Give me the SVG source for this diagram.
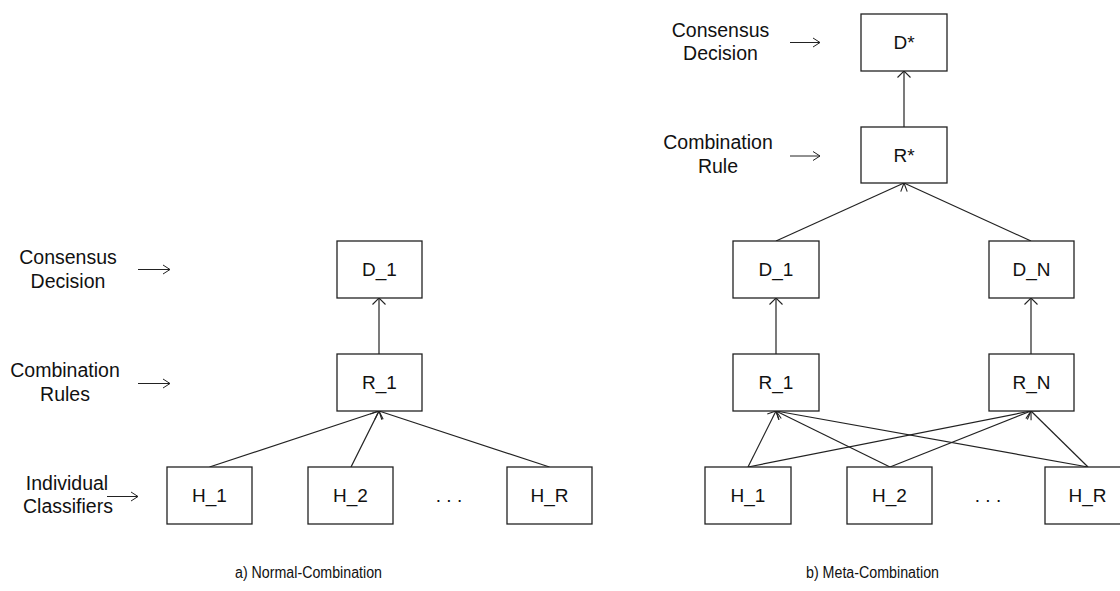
<svg xmlns="http://www.w3.org/2000/svg" width="1120" height="591" viewBox="0 0 1120 591">
<defs>
<style>
.box{fill:#fff;stroke:#222;stroke-width:1.3}
.t{font-family:"Liberation Sans",Arial,sans-serif;font-size:19px;fill:#111;text-anchor:middle}
.lbl{font-family:"Liberation Sans",Arial,sans-serif;font-size:19.5px;fill:#111;text-anchor:middle}
.cap{font-family:"Liberation Sans",Arial,sans-serif;font-size:16px;fill:#111}
.c{stroke:#222;stroke-width:1.2;fill:none}
.la{stroke:#222;stroke-width:1;fill:none}
</style>
<marker id="ah" viewBox="-10 -8 12 16" refX="0" refY="0" markerWidth="12" markerHeight="16" markerUnits="userSpaceOnUse" orient="auto">
<path d="M-6.5,-6.5 L0,0 L-6.5,6.5" fill="none" stroke="#222" stroke-width="1.1"/>
</marker>
</defs>
<rect width="1120" height="591" fill="#fff"/>

<g id="connectors">
<line class="c" x1="379" y1="354" x2="379" y2="298" marker-end="url(#ah)"/>
<line class="c" x1="209.5" y1="467" x2="379" y2="411" marker-end="url(#ah)"/>
<line class="c" x1="351" y1="467" x2="379" y2="411" marker-end="url(#ah)"/>
<line class="c" x1="549.5" y1="467" x2="379" y2="411" marker-end="url(#ah)"/>

<line class="c" x1="904" y1="127" x2="904" y2="71" marker-end="url(#ah)"/>
<line class="c" x1="776" y1="241" x2="904" y2="183" marker-end="url(#ah)"/>
<line class="c" x1="1031" y1="241" x2="904" y2="183" marker-end="url(#ah)"/>
<line class="c" x1="776" y1="354" x2="776" y2="298" marker-end="url(#ah)"/>
<line class="c" x1="1031" y1="354" x2="1031" y2="298" marker-end="url(#ah)"/>
<line class="c" x1="748" y1="467" x2="776" y2="411" marker-end="url(#ah)"/>
<line class="c" x1="748" y1="467" x2="1031" y2="411" marker-end="url(#ah)"/>
<line class="c" x1="890" y1="467" x2="776" y2="411" marker-end="url(#ah)"/>
<line class="c" x1="890" y1="467" x2="1031" y2="411" marker-end="url(#ah)"/>
<line class="c" x1="1088" y1="467" x2="776" y2="411" marker-end="url(#ah)"/>
<line class="c" x1="1088" y1="467" x2="1031" y2="411" marker-end="url(#ah)"/>
</g>

<g id="a-D_1"><rect class="box" x="337" y="241" width="85" height="57"/><text class="t" x="379.5" y="276">D_1</text></g>
<g id="a-R_1"><rect class="box" x="337" y="354" width="85" height="57"/><text class="t" x="379.5" y="389">R_1</text></g>
<g id="a-H_1"><rect class="box" x="167" y="467" width="85" height="57"/><text class="t" x="209.5" y="502">H_1</text></g>
<g id="a-H_2"><rect class="box" x="308" y="467" width="85" height="57"/><text class="t" x="350.5" y="502">H_2</text></g>
<g id="a-H_R"><rect class="box" x="507" y="467" width="85" height="57"/><text class="t" x="549.5" y="502">H_R</text></g>
<g id="a-dots"><text class="t" x="449" y="502">. . .</text></g>

<g id="b-Dstar"><rect class="box" x="861" y="14" width="86" height="57"/><text class="t" x="904" y="49">D*</text></g>
<g id="b-Rstar"><rect class="box" x="861" y="127" width="86" height="56"/><text class="t" x="904" y="162">R*</text></g>
<g id="b-D_1"><rect class="box" x="733" y="241" width="86" height="57"/><text class="t" x="776" y="276">D_1</text></g>
<g id="b-D_N"><rect class="box" x="989" y="241" width="85" height="57"/><text class="t" x="1031.5" y="276">D_N</text></g>
<g id="b-R_1"><rect class="box" x="733" y="354" width="86" height="57"/><text class="t" x="776" y="389">R_1</text></g>
<g id="b-R_N"><rect class="box" x="989" y="354" width="85" height="57"/><text class="t" x="1031.5" y="389">R_N</text></g>
<g id="b-H_1"><rect class="box" x="705" y="467" width="86" height="57"/><text class="t" x="748" y="502">H_1</text></g>
<g id="b-H_2"><rect class="box" x="847" y="467" width="85" height="57"/><text class="t" x="889.5" y="502">H_2</text></g>
<g id="b-H_R"><rect class="box" x="1045" y="467" width="85" height="57"/><text class="t" x="1087.5" y="502">H_R</text></g>
<g id="b-dots"><text class="t" x="988" y="502">. . .</text></g>

<g id="labels">
<text class="lbl" x="68" y="264">Consensus</text>
<text class="lbl" x="68" y="288">Decision</text>
<path class="la" d="M138,269.5 H170 M163,265 L170,269.5 L163,274"/>
<text class="lbl" x="65" y="377">Combination</text>
<text class="lbl" x="65" y="401">Rules</text>
<path class="la" d="M138,383.5 H170 M163,379 L170,383.5 L163,388"/>
<text class="lbl" x="67" y="490">Individual</text>
<text class="lbl" x="68" y="513">Classifiers</text>
<path class="la" d="M107,496.5 H138 M131,492 L138,496.5 L131,501"/>

<text class="lbl" x="720.5" y="37">Consensus</text>
<text class="lbl" x="720.5" y="60">Decision</text>
<path class="la" d="M790,42.5 H820 M813,38 L820,42.5 L813,47"/>
<text class="lbl" x="718" y="149">Combination</text>
<text class="lbl" x="718" y="173">Rule</text>
<path class="la" d="M790,156 H820 M813,151.5 L820,156 L813,160.5"/>

<text class="cap" x="235" y="578" textLength="147" lengthAdjust="spacingAndGlyphs">a) Normal-Combination</text>
<text class="cap" x="806" y="578" textLength="133" lengthAdjust="spacingAndGlyphs">b) Meta-Combination</text>
</g>
</svg>
